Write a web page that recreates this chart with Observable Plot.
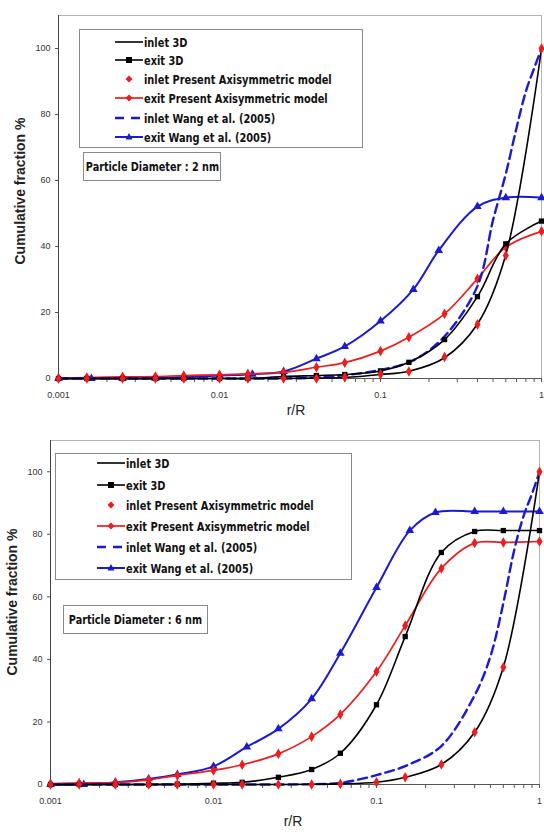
<!DOCTYPE html>
<html><head><meta charset="utf-8">
<script src="https://cdn.jsdelivr.net/npm/d3@7"></script>
<script src="https://cdn.jsdelivr.net/npm/@observablehq/plot@0.6"></script>
<style>
body{margin:0;background:#fff;}
#wrap{position:relative;width:544px;height:832px;overflow:hidden;}
.abs{position:absolute;white-space:nowrap;}
.leg{border:1px solid #8a8a8a;background:#fff;}
.row{position:absolute;display:flex;align-items:center;font:bold 13px "Liberation Sans Narrow","Arial Narrow","DejaVu Sans Condensed",sans-serif;color:#111;}
.row span{display:inline-block;transform:scaleX(0.84);transform-origin:left center;margin-left:1px;}
.ylab{font:bold 14px "Liberation Sans",Arial,sans-serif;color:#222;transform:translate(-50%,-50%) rotate(-90deg);}
.xlab{font:14px "Liberation Sans",Arial,sans-serif;color:#222;transform:translate(-50%,-50%);}
.pd{border:1px solid #8a8a8a;background:#fff;display:flex;align-items:center;justify-content:center;font:bold 12.5px "Liberation Sans Narrow","Arial Narrow","DejaVu Sans Condensed",sans-serif;color:#111;}
.pd span{display:inline-block;transform:scaleX(0.86);}
</style></head>
<body><div id="wrap"></div>
<script>
// ---- data ----
const xPresent = [0.001,0.0015,0.0025,0.004,0.006,0.01,0.015,0.025,0.04,0.06,0.1,0.15,0.25,0.4,0.6,1];
const xWangExit = [0.001,0.0016,0.0025,0.004,0.006,0.01,0.016,0.025,0.04,0.06,0.1,0.16,0.23,0.4,0.6,1];
const xWangInlet = [0.001,0.0025,0.006,0.01,0.025,0.04,0.06,0.1,0.16,0.25,0.4,0.5,0.6,0.7,0.8,0.9,1];

// 2 nm
const inlet3D_2      = [0,0,0,0,0,0,0,0,0.1,0.3,1.2,2.2,6.3,16.5,37.5,100];
const exit3D_2       = [0,0,0,0,0,0,0,0.6,0.9,1.2,2.3,4.9,11.8,24.8,40.8,47.7];
const inletPresent_2 = [0,0,0,0,0,0,0,0,0,0.4,1.3,2.1,6.5,16.4,37.3,100];
const exitPresent_2  = [0.1,0.3,0.5,0.6,0.9,1.1,1.4,1.9,3.4,4.8,8.3,12.5,19.6,30.2,39.8,44.6];
const inletWang_2    = [0,0,0,0,0,0.3,1.0,2.6,5.5,12.8,28,48,62,76,87,94,100];
const exitWang_2     = [0,0,0,0.1,0.4,0.9,1.3,2.1,6.0,9.7,17.4,27,38.8,52.1,54.8,54.8];

// 6 nm
const inlet3D_6      = [0,0,0,0,0,0,0,0,0.1,0.2,0.7,2.3,6.4,16.7,37.5,100];
const exit3D_6       = [0,0,0,0,0.1,0.4,0.7,2.3,4.8,10,25.5,47.3,74.2,80.9,81.2,81.2];
const inletPresent_6 = [0,0,0,0,0,0,0,0,0,0.2,0.7,2.3,6.4,16.7,37.5,100];
const exitPresent_6  = [0.2,0.5,0.6,1.5,2.9,4.5,6.3,9.8,15.3,22.4,36.1,50.8,69.1,77.2,77.4,77.7];
const inletWang_6    = [0,0,0,0,0,0.1,0.5,3,6.5,12.3,28.5,41,58,75,86,93,100];
const exitWang_6     = [0,0,0.7,1.8,3.2,5.8,12,17.8,27.4,42,63,81.2,87,87.3,87.3,87.3];

const xTickValues = [0.001,0.01,0.1,1];
const xTickLabels = ["0.001","0.01","0.1","1"];
const yTickValues = [0,20,40,60,80,100];
const legendLabels = ["inlet 3D","exit 3D","inlet Present Axisymmetric model","exit Present Axisymmetric model","inlet Wang et al. (2005)","exit Wang et al. (2005)"];
const boxLabels = ["Particle Diameter : 2 nm","Particle Diameter : 6 nm"];
const yTitle = "Cumulative fraction %";
const xTitle = "r/R";

const RED = "#ee1c1c", BLUE = "#1a1ad2", BLACK = "#000";
const tbl = (xs, ys) => xs.map((x, i) => ({x, y: ys[i]}));
const xMinor = [];
[0.001,0.01,0.1].forEach(d => { for (let k = 2; k <= 9; k++) xMinor.push(d * k); });
const labelOf = new Map(xTickValues.map((v, i) => [v, xTickLabels[i]]));

function chart(c) {
  const C = "catmull-rom";
  return Plot.plot({
    width: 544, height: c.height,
    marginTop: c.mt, marginBottom: c.mb, marginLeft: c.ml, marginRight: c.mr,
    x: {type: "log", domain: [0.001, 1]},
    y: {domain: [0, 110]},
    style: {fontFamily: "'Liberation Sans', Arial, sans-serif", fontSize: "9px", color: "#333", background: "transparent"},
    marks: [
      Plot.frame({stroke: "#b4b4b4"}),
      Plot.axisX({ticks: xMinor, tickSize: 4, tickFormat: () => "", label: null, stroke: "#555"}),
      Plot.axisX({ticks: xTickValues, tickSize: 4, tickPadding: 9, tickFormat: d => labelOf.get(d), label: null, stroke: "#555"}),
      Plot.axisY({ticks: yTickValues, tickSize: 3, tickPadding: 5, label: null, stroke: "#555"}),
      Plot.ruleX([0.001], {stroke: "#444"}),
      Plot.ruleY([0], {stroke: "#555"}),
      // exit Wang
      Plot.line(tbl(xWangExit, c.exitWang), {x: "x", y: "y", stroke: BLUE, strokeWidth: 2, curve: C}),
      Plot.dot(tbl(xWangExit, c.exitWang), {x: "x", y: "y", symbol: "triangle", fill: BLUE, r: 3.2}),
      // exit present
      Plot.line(tbl(xPresent, c.exitPresent), {x: "x", y: "y", stroke: RED, strokeWidth: 1.7, curve: C}),
      Plot.dot(tbl(xPresent, c.exitPresent), {x: "x", y: "y", symbol: "diamond", fill: RED, r: 3.2}),
      // inlet Wang dashed
      Plot.line(tbl(xWangInlet, c.inletWang), {x: "x", y: "y", stroke: BLUE, strokeWidth: 2.4, strokeDasharray: "9,5", curve: C}),
      // exit 3D
      Plot.line(tbl(xPresent, c.exit3D), {x: "x", y: "y", stroke: BLACK, strokeWidth: 1.6, curve: C}),
      Plot.dot(tbl(xPresent, c.exit3D), {x: "x", y: "y", symbol: "square", fill: BLACK, r: 3}),
      // inlet 3D
      Plot.line(tbl(xPresent, c.inlet3D), {x: "x", y: "y", stroke: BLACK, strokeWidth: 1.6, curve: C}),
      // inlet present (markers only)
      Plot.dot(tbl(xPresent, c.inletPresent), {x: "x", y: "y", symbol: "diamond", fill: RED, r: 3.2})
    ]
  });
}

function legendSample(i) {
  const s = `<svg width="28" height="12" style="display:block">`;
  const mid = 6;
  let body = "";
  if (i === 0) body = `<line x1="0" x2="28" y1="${mid}" y2="${mid}" stroke="${BLACK}" stroke-width="1.6"/>`;
  if (i === 1) body = `<line x1="0" x2="28" y1="${mid}" y2="${mid}" stroke="${BLACK}" stroke-width="1.6"/><rect x="11" y="${mid-3}" width="6" height="6" fill="${BLACK}"/>`;
  if (i === 2) body = `<path d="M14 ${mid-3.5} L17.5 ${mid} L14 ${mid+3.5} L10.5 ${mid} Z" fill="${RED}"/>`;
  if (i === 3) body = `<line x1="0" x2="28" y1="${mid}" y2="${mid}" stroke="${RED}" stroke-width="1.7"/><path d="M14 ${mid-3.5} L17.5 ${mid} L14 ${mid+3.5} L10.5 ${mid} Z" fill="${RED}"/>`;
  if (i === 4) body = `<line x1="0" x2="28" y1="${mid}" y2="${mid}" stroke="${BLUE}" stroke-width="2.4" stroke-dasharray="9,7"/>`;
  if (i === 5) body = `<line x1="0" x2="28" y1="${mid}" y2="${mid}" stroke="${BLUE}" stroke-width="2"/><path d="M14 ${mid-4} L17.5 ${mid+2.5} L10.5 ${mid+2.5} Z" fill="${BLUE}"/>`;
  return s + body + "</svg>";
}

const wrap = document.getElementById("wrap");
function addDiv(cls, css, html) {
  const d = document.createElement("div");
  d.className = "abs " + cls;
  d.style.cssText += css;
  d.innerHTML = html;
  wrap.appendChild(d);
  return d;
}

const cfgs = [
  {top: 0, height: 420, mt: 15, mb: 42, ml: 58, mr: 3,
   inlet3D: inlet3D_2, exit3D: exit3D_2, inletPresent: inletPresent_2, exitPresent: exitPresent_2, inletWang: inletWang_2, exitWang: exitWang_2,
   leg: {l: 79, t: 29, w: 282, h: 117, sx: 115, rows: [42, 60, 79, 98, 118, 137]},
   box: {l: 83, t: 152, w: 136, h: 27, label: boxLabels[0]},
   ylab: {x: 20, y: 191}, xlab: {x: 296, y: 410}},
  {top: 420, height: 412, mt: 20, mb: 48, ml: 50, mr: 5,
   inlet3D: inlet3D_6, exit3D: exit3D_6, inletPresent: inletPresent_6, exitPresent: exitPresent_6, inletWang: inletWang_6, exitWang: exitWang_6,
   leg: {l: 55, t: 453, w: 295, h: 125, sx: 97, rows: [463, 485, 505, 526, 547, 568]},
   box: {l: 63, t: 605, w: 143, h: 27, label: boxLabels[1]},
   ylab: {x: 12, y: 602}, xlab: {x: 293, y: 821}}
];

cfgs.forEach(c => {
  const svg = chart(c);
  svg.style.position = "absolute";
  svg.style.left = "0px";
  svg.style.top = c.top + "px";
  wrap.appendChild(svg);
  addDiv("leg", `left:${c.leg.l}px;top:${c.leg.t}px;width:${c.leg.w}px;height:${c.leg.h}px;`, "");
  c.leg.rows.forEach((ry, i) => {
    addDiv("row", `left:${c.leg.sx}px;top:${ry - 9}px;height:18px;`, legendSample(i) + `<span>${legendLabels[i]}</span>`);
  });
  addDiv("pd", `left:${c.box.l}px;top:${c.box.t}px;width:${c.box.w}px;height:${c.box.h}px;`, `<span>${c.box.label}</span>`);
  addDiv("ylab", `left:${c.ylab.x}px;top:${c.ylab.y}px;`, yTitle);
  addDiv("xlab", `left:${c.xlab.x}px;top:${c.xlab.y}px;`, xTitle);
});
</script></body></html>
